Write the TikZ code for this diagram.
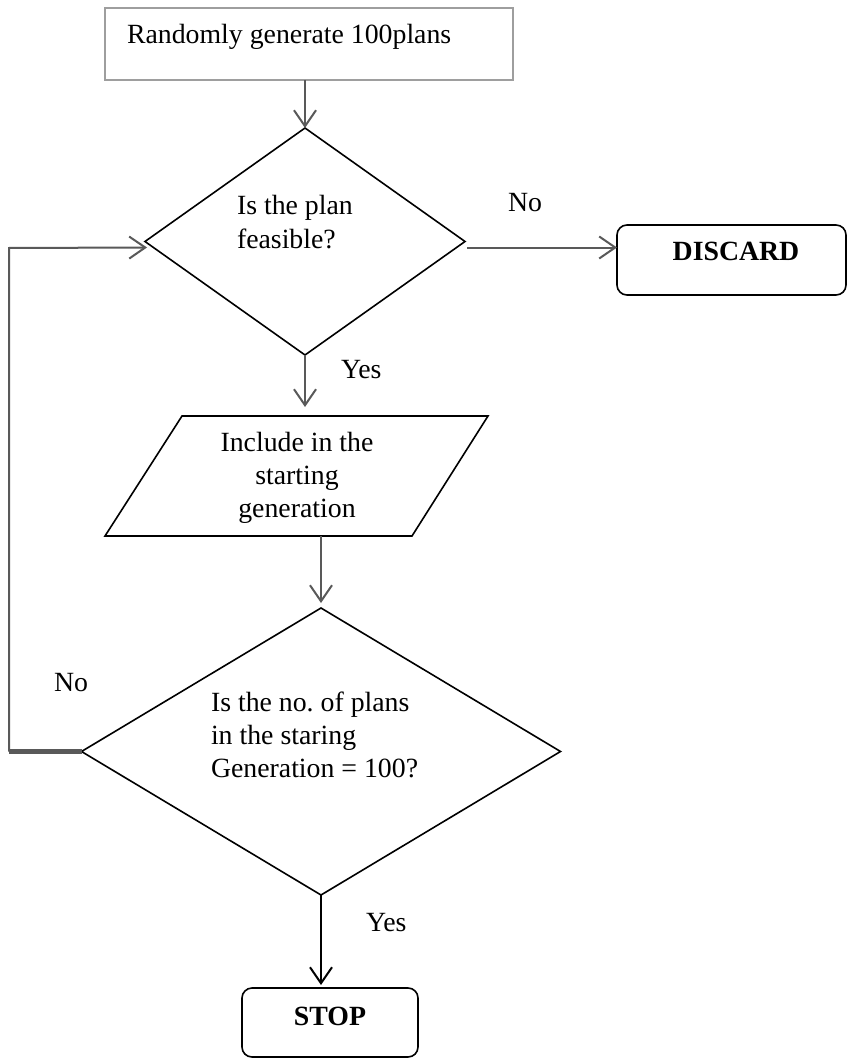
\documentclass[tikz,border=0pt]{standalone}
\usepackage{fontspec}
\setmainfont{Liberation Serif}
\usetikzlibrary{shapes.geometric,arrows.meta,calc}
\definecolor{arrowgray}{HTML}{595959}
\definecolor{boxgray}{HTML}{9E9E9E}
\frenchspacing

\begin{document}
\begin{tikzpicture}[x=1pt,y=-1pt,
  every node/.style={font=\fontsize{27.8}{33}\selectfont, inner sep=0pt, outer sep=0pt},
  shapeline/.style={draw=black, line width=1.6pt, line join=miter},
  decision/.style={diamond, shapeline},
  terminal/.style={rectangle, rounded corners=10pt, shapeline},
  tip/.style={-{Straight Barb[length=16pt,width=22pt,line width=2pt]}},
  garrow/.style={draw=arrowgray, line width=2pt, tip},
  barrow/.style={draw=black, line width=2pt, tip},
  lbl/.style={anchor=base west},
  boldlbl/.style={anchor=base, font=\fontsize{27.8}{33}\selectfont\bfseries},
]
% page
\fill[white] (0,0) rectangle (848,1059);
\useasboundingbox (0,0) rectangle (848,1059);

% start box
\node[draw=boxgray, line width=2pt, minimum width=408pt, minimum height=72pt] (gen) at (309,44) {};
\node[lbl] (gentext) at (127,44) {Randomly generate 100plans};

% first decision (multi-line text: base anchor sits on the last line)
\node[decision, minimum width=320pt, minimum height=227pt] (d1) at (305,241.5) {};
\node[lbl, align=left] (d1text) at (237,248) {Is the plan\\feasible?};

% discard terminal
\node[terminal, minimum width=229pt, minimum height=70pt] (discard) at (731.5,260) {};
\node[boldlbl] (discardtext) at (736,261) {DISCARD};

% parallelogram
\coordinate (pbl) at (105,536);
\coordinate (ptl) at (182,416);
\coordinate (ptr) at (488,416);
\coordinate (pbr) at (412,536);
\draw[shapeline] (pbl) -- (ptl) -- (ptr) -- (pbr) -- cycle;
\node[anchor=base, align=center] (ptext) at (297,517) {Include in the\\starting\\generation};

% second decision
\node[decision, minimum width=479pt, minimum height=287pt] (d2) at (321,751.5) {};
\node[lbl, align=left] (d2text) at (211,777) {Is the no.\ of plans\\in the staring\\Generation = 100?};

% stop terminal
\node[terminal, minimum width=176pt, minimum height=69pt] (stop) at (330,1022.5) {};
\node[boldlbl] (stoptext) at (330,1025) {STOP};

% connectors
\draw[garrow] (d1.north |- gen.south) -- (d1.north);
\coordinate (dstart) at ($(d1.east)+(2,6)$);
\draw[garrow] (dstart) -- (discard.west |- dstart);
\coordinate (pin) at ($(d1.south |- ptl)+(0,-9)$);
\draw[garrow] (d1.south) -- (pin);
\coordinate (pout) at (d2.north |- pbl);
\draw[garrow] (pout) -- ($(d2.north)+(0,-5)$);
\coordinate (lbot) at (9,751.5);
\coordinate (ltop) at (9,248);
\draw[arrowgray, line width=5pt] (d2.west) -- (lbot);
\draw[garrow] (lbot) -- (ltop) -- ($(d1.west)+(2,6)$);
\draw[barrow] (d2.south) -- ($(d2.south |- stop.north)+(0,-3)$);

% branch labels
\node[lbl] (no1) at (508,212) {No};
\node[lbl] (yes1) at (341,378) {Yes};
\node[lbl] (no2) at (54,691) {No};
\node[lbl] (yes2) at (366,931) {Yes};
\end{tikzpicture}
\end{document}
